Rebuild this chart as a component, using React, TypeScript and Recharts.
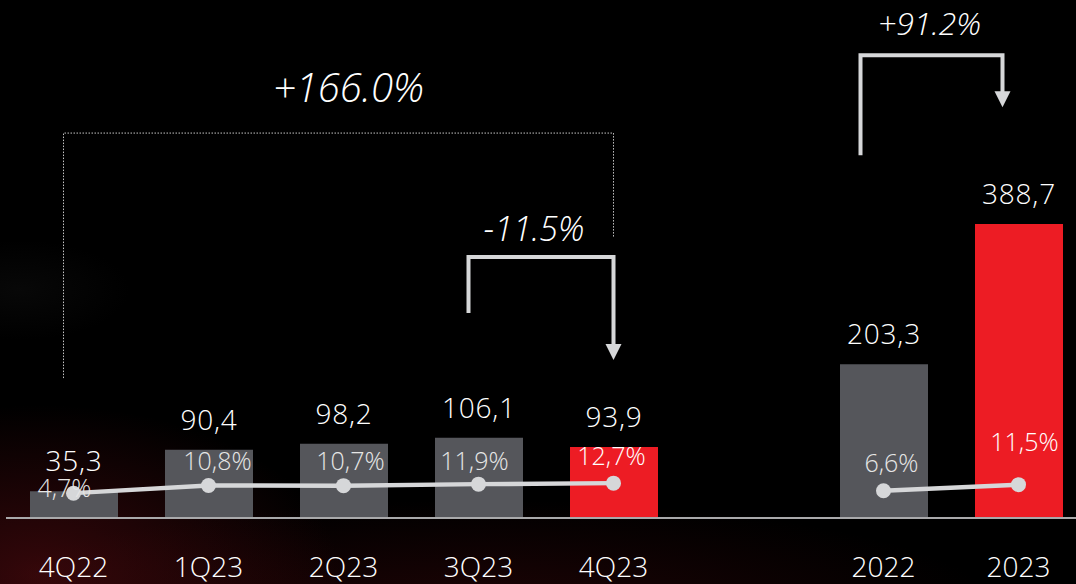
import {
  ComposedChart,
  Bar,
  Line,
  XAxis,
  YAxis,
  Cell,
  LabelList,
  ReferenceLine,
} from "recharts";

const FONT = '"Open Sans", "DejaVu Sans", sans-serif';

// periods, with one empty slot between quarters and years
const categories = ["4Q22", "1Q23", "2Q23", "3Q23", "4Q23", "", "2022", "2023"];
const revenue = [35.3, 90.4, 98.2, 106.1, 93.9, null, 203.3, 388.7];
const marginQuarter = [4.7, 10.8, 10.7, 11.9, 12.7, null, null, null];
const marginYear = [null, null, null, null, null, null, 6.6, 11.5];
const highlighted = ["4Q23", "2023"];

const growthLabels = ["+166.0%", "-11.5%", "+91.2%"];

const data = categories.map((cat, i) => ({
  cat,
  value: revenue[i],
  pctQ: marginQuarter[i],
  pctY: marginYear[i],
}));

const GRAY = "#55565b";
const RED = "#ed1c24";
const LINE = "#d6d7d9";

const fmt = (v: number) => v.toFixed(1).replace(".", ",");

// nudges for the margin labels so they sit like the original slide
const pctOffset: Record<string, [number, number]> = {
  "4Q22": [-9, 4],
  "1Q23": [9, -16],
  "2Q23": [7, -16],
  "3Q23": [-4, -14],
  "4Q23": [-2, -18],
  "2022": [8, -19],
  "2023": [6, -34],
};

const renderTick = (props: any) => {
  const { x, payload } = props;
  return (
    <text
      x={x}
      y={577}
      textAnchor="middle"
      fill="#ffffff"
      fontSize={28}
      fontWeight={300}
      fontFamily={FONT}
    >
      {payload.value}
    </text>
  );
};

const renderValueLabel = (props: any) => {
  const { x, y, width, value } = props;
  if (value == null) return null;
  return (
    <text
      x={x + width / 2}
      y={y - 20}
      textAnchor="middle"
      fill="#ffffff"
      fontSize={28}
      fontWeight={300}
      letterSpacing={0.8}
      fontFamily={FONT}
    >
      {fmt(value)}
    </text>
  );
};

const renderPctLabel = (props: any) => {
  const { x, y, value, index } = props;
  if (value == null) return null;
  const cat = categories[index];
  const [dx, dy] = pctOffset[cat] || [0, -16];
  const onRed = highlighted.includes(cat);
  return (
    <text
      x={x + dx}
      y={y + dy}
      textAnchor="middle"
      fill={onRed ? "#ffffff" : "#e6e6e6"}
      fontSize={25}
      fontWeight={300}
      fontFamily={FONT}
    >
      {fmt(value)}%
    </text>
  );
};

type BracketOpts = {
  label: string;
  dotted?: boolean;
  leftDx: number;
  rightDx: number;
  leftLeg: number;
  rightLeg: number;
  labelDx: number;
  labelDy: number;
  fontSize: number;
};

const bracket = (o: BracketOpts) => (props: any) => {
  const { x1, y1, x2 } = props;
  const lx = x1 + o.leftDx;
  const rx = x2 + o.rightDx;
  const mid = (lx + rx) / 2 + o.labelDx;
  const text = (
    <text
      x={mid}
      y={y1 + o.labelDy}
      textAnchor="middle"
      fill="#ffffff"
      fontSize={o.fontSize}
      fontStyle="italic"
      fontWeight={300}
      fontFamily={FONT}
    >
      {o.label}
    </text>
  );
  if (o.dotted) {
    return (
      <g>
        <path
          d={`M${lx},${y1 + o.leftLeg} L${lx},${y1} L${rx},${y1} L${rx},${y1 + o.rightLeg}`}
          fill="none"
          stroke="#c4c4c4"
          strokeWidth={1}
          strokeDasharray="1.5 1.5"
        />
        {text}
      </g>
    );
  }
  const tip = y1 + o.rightLeg;
  return (
    <g>
      <path
        d={`M${lx},${y1 + o.leftLeg} L${lx},${y1} L${rx},${y1} L${rx},${tip - 14}`}
        fill="none"
        stroke={LINE}
        strokeWidth={4}
      />
      <polygon points={`${rx - 8},${tip - 16} ${rx + 8},${tip - 16} ${rx},${tip}`} fill={LINE} />
      {text}
    </g>
  );
};

export default function App() {
  return (
    <div
      style={{
        position: "absolute",
        left: 0,
        top: 0,
        width: 1076,
        height: 584,
        overflow: "hidden",
        background:
          "radial-gradient(ellipse 300px 170px at 40px 575px, rgba(105,14,20,0.5), rgba(0,0,0,0) 100%)," +
          "radial-gradient(ellipse 520px 110px at 480px 610px, rgba(85,10,14,0.35), rgba(0,0,0,0) 100%)," +
          "radial-gradient(ellipse 110px 50px at 20px 290px, rgba(50,50,50,0.15), rgba(0,0,0,0) 100%)," +
          "#000000",
      }}
    >
      <div style={{ position: "absolute", left: 6, top: 0 }}>
        <ComposedChart
          width={1080}
          height={584}
          data={data}
          margin={{ top: 34, right: 0, bottom: 0, left: 0 }}
        >
          <XAxis
            dataKey="cat"
            height={66}
            interval={0}
            tickLine={false}
            axisLine={{ stroke: "#a9a9ab", strokeWidth: 2 }}
            tick={renderTick}
          />
          <YAxis yAxisId="bar" hide domain={[0, 640]} allowDataOverflow />
          <YAxis yAxisId="pct" hide orientation="right" domain={[-15.2, 372]} allowDataOverflow />

          <Bar yAxisId="bar" dataKey="value" barSize={88} isAnimationActive={false}>
            {data.map((d) => (
              <Cell key={d.cat || "gap"} fill={highlighted.includes(d.cat) ? RED : GRAY} />
            ))}
            <LabelList dataKey="value" content={renderValueLabel} />
          </Bar>

          <Line
            yAxisId="pct"
            dataKey="pctQ"
            stroke={LINE}
            strokeWidth={4.5}
            dot={{ r: 7.5, fill: LINE, stroke: "none" }}
            activeDot={false}
            isAnimationActive={false}
          >
            <LabelList dataKey="pctQ" content={renderPctLabel} />
          </Line>
          <Line
            yAxisId="pct"
            dataKey="pctY"
            stroke={LINE}
            strokeWidth={4.5}
            dot={{ r: 7.5, fill: LINE, stroke: "none" }}
            activeDot={false}
            isAnimationActive={false}
          >
            <LabelList dataKey="pctY" content={renderPctLabel} />
          </Line>

          <ReferenceLine
            yAxisId="bar"
            ifOverflow="visible"
            segment={[
              { x: "4Q22", y: 509 },
              { x: "4Q23", y: 509 },
            ]}
            shape={bracket({
              label: growthLabels[0],
              dotted: true,
              leftDx: -10,
              rightDx: 0,
              leftLeg: 245,
              rightLeg: 105,
              labelDx: 10,
              labelDy: -31,
              fontSize: 40,
            })}
          />
          <ReferenceLine
            yAxisId="bar"
            ifOverflow="visible"
            segment={[
              { x: "3Q23", y: 345 },
              { x: "4Q23", y: 345 },
            ]}
            shape={bracket({
              label: growthLabels[1],
              leftDx: -10,
              rightDx: 0,
              leftLeg: 56,
              rightLeg: 103,
              labelDx: -7,
              labelDy: -16,
              fontSize: 34,
            })}
          />
          <ReferenceLine
            yAxisId="bar"
            ifOverflow="visible"
            segment={[
              { x: "2022", y: 612 },
              { x: "2023", y: 612 },
            ]}
            shape={bracket({
              label: growthLabels[2],
              leftDx: -23,
              rightDx: -16,
              leftLeg: 100,
              rightLeg: 52,
              labelDx: -2,
              labelDy: -20,
              fontSize: 32,
            })}
          />
        </ComposedChart>
      </div>
    </div>
  );
}
